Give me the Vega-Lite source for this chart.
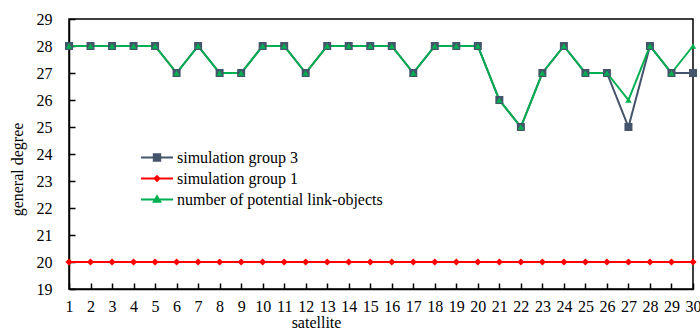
{
  "$schema": "https://vega.github.io/schema/vega-lite/v6.json",
  "width": 624,
  "height": 270,
  "autosize": {"type": "none"},
  "padding": {"left": 69, "top": 19, "right": 7, "bottom": 46},
  "config": {
    "view": {"stroke": "black", "strokeWidth": 1.5},
    "font": "Liberation Serif",
    "axis": {
      "labelFont": "Liberation Serif",
      "labelFontSize": 16,
      "labelColor": "black",
      "titleFont": "Liberation Serif",
      "titleFontSize": 16,
      "titleFontWeight": "normal",
      "titleColor": "black",
      "domainColor": "black",
      "domainWidth": 1.5,
      "tickColor": "black",
      "tickWidth": 1.5,
      "grid": false
    },
    "legend": {
      "labelFont": "Liberation Serif",
      "labelFontSize": 16,
      "labelColor": "black",
      "labelLimit": 400,
      "padding": 0,
      "rowPadding": 0,
      "clipHeight": 21
    }
  },
  "data": {
    "values": [
      {"sat":1,"series":"simulation group 3","value":28},
      {"sat":2,"series":"simulation group 3","value":28},
      {"sat":3,"series":"simulation group 3","value":28},
      {"sat":4,"series":"simulation group 3","value":28},
      {"sat":5,"series":"simulation group 3","value":28},
      {"sat":6,"series":"simulation group 3","value":27},
      {"sat":7,"series":"simulation group 3","value":28},
      {"sat":8,"series":"simulation group 3","value":27},
      {"sat":9,"series":"simulation group 3","value":27},
      {"sat":10,"series":"simulation group 3","value":28},
      {"sat":11,"series":"simulation group 3","value":28},
      {"sat":12,"series":"simulation group 3","value":27},
      {"sat":13,"series":"simulation group 3","value":28},
      {"sat":14,"series":"simulation group 3","value":28},
      {"sat":15,"series":"simulation group 3","value":28},
      {"sat":16,"series":"simulation group 3","value":28},
      {"sat":17,"series":"simulation group 3","value":27},
      {"sat":18,"series":"simulation group 3","value":28},
      {"sat":19,"series":"simulation group 3","value":28},
      {"sat":20,"series":"simulation group 3","value":28},
      {"sat":21,"series":"simulation group 3","value":26},
      {"sat":22,"series":"simulation group 3","value":25},
      {"sat":23,"series":"simulation group 3","value":27},
      {"sat":24,"series":"simulation group 3","value":28},
      {"sat":25,"series":"simulation group 3","value":27},
      {"sat":26,"series":"simulation group 3","value":27},
      {"sat":27,"series":"simulation group 3","value":25},
      {"sat":28,"series":"simulation group 3","value":28},
      {"sat":29,"series":"simulation group 3","value":27},
      {"sat":30,"series":"simulation group 3","value":27},
      {"sat":1,"series":"simulation group 1","value":20},
      {"sat":2,"series":"simulation group 1","value":20},
      {"sat":3,"series":"simulation group 1","value":20},
      {"sat":4,"series":"simulation group 1","value":20},
      {"sat":5,"series":"simulation group 1","value":20},
      {"sat":6,"series":"simulation group 1","value":20},
      {"sat":7,"series":"simulation group 1","value":20},
      {"sat":8,"series":"simulation group 1","value":20},
      {"sat":9,"series":"simulation group 1","value":20},
      {"sat":10,"series":"simulation group 1","value":20},
      {"sat":11,"series":"simulation group 1","value":20},
      {"sat":12,"series":"simulation group 1","value":20},
      {"sat":13,"series":"simulation group 1","value":20},
      {"sat":14,"series":"simulation group 1","value":20},
      {"sat":15,"series":"simulation group 1","value":20},
      {"sat":16,"series":"simulation group 1","value":20},
      {"sat":17,"series":"simulation group 1","value":20},
      {"sat":18,"series":"simulation group 1","value":20},
      {"sat":19,"series":"simulation group 1","value":20},
      {"sat":20,"series":"simulation group 1","value":20},
      {"sat":21,"series":"simulation group 1","value":20},
      {"sat":22,"series":"simulation group 1","value":20},
      {"sat":23,"series":"simulation group 1","value":20},
      {"sat":24,"series":"simulation group 1","value":20},
      {"sat":25,"series":"simulation group 1","value":20},
      {"sat":26,"series":"simulation group 1","value":20},
      {"sat":27,"series":"simulation group 1","value":20},
      {"sat":28,"series":"simulation group 1","value":20},
      {"sat":29,"series":"simulation group 1","value":20},
      {"sat":30,"series":"simulation group 1","value":20},
      {"sat":1,"series":"number of potential link-objects","value":28},
      {"sat":2,"series":"number of potential link-objects","value":28},
      {"sat":3,"series":"number of potential link-objects","value":28},
      {"sat":4,"series":"number of potential link-objects","value":28},
      {"sat":5,"series":"number of potential link-objects","value":28},
      {"sat":6,"series":"number of potential link-objects","value":27},
      {"sat":7,"series":"number of potential link-objects","value":28},
      {"sat":8,"series":"number of potential link-objects","value":27},
      {"sat":9,"series":"number of potential link-objects","value":27},
      {"sat":10,"series":"number of potential link-objects","value":28},
      {"sat":11,"series":"number of potential link-objects","value":28},
      {"sat":12,"series":"number of potential link-objects","value":27},
      {"sat":13,"series":"number of potential link-objects","value":28},
      {"sat":14,"series":"number of potential link-objects","value":28},
      {"sat":15,"series":"number of potential link-objects","value":28},
      {"sat":16,"series":"number of potential link-objects","value":28},
      {"sat":17,"series":"number of potential link-objects","value":27},
      {"sat":18,"series":"number of potential link-objects","value":28},
      {"sat":19,"series":"number of potential link-objects","value":28},
      {"sat":20,"series":"number of potential link-objects","value":28},
      {"sat":21,"series":"number of potential link-objects","value":26},
      {"sat":22,"series":"number of potential link-objects","value":25},
      {"sat":23,"series":"number of potential link-objects","value":27},
      {"sat":24,"series":"number of potential link-objects","value":28},
      {"sat":25,"series":"number of potential link-objects","value":27},
      {"sat":26,"series":"number of potential link-objects","value":27},
      {"sat":27,"series":"number of potential link-objects","value":26},
      {"sat":28,"series":"number of potential link-objects","value":28},
      {"sat":29,"series":"number of potential link-objects","value":27},
      {"sat":30,"series":"number of potential link-objects","value":28}
    ]
  },
  "encoding": {
    "x": {
      "field": "sat", "type": "quantitative",
      "scale": {"domain": [1, 30], "nice": false, "zero": false},
      "axis": {
        "title": "satellite",
        "values": [1,2,3,4,5,6,7,8,9,10,11,12,13,14,15,16,17,18,19,20,21,22,23,24,25,26,27,28,29,30],
        "format": "d",
        "tickSize": -6,
        "labelPadding": 15,
        "labelFlush": false,
        "labelOverlap": false,
        "titleX": 247,
        "titleY": 25,
        "titleBaseline": "top",
        "titleAlign": "center"
      }
    },
    "y": {
      "field": "value", "type": "quantitative",
      "scale": {"domain": [19, 29], "nice": false, "zero": false},
      "axis": {
        "title": "general degree",
        "values": [19,20,21,22,23,24,25,26,27,28,29],
        "tickSize": -6,
        "labelPadding": 23,
        "titleX": -52,
        "titleY": 150,
        "titleBaseline": "middle",
        "titleAlign": "center"
      }
    }
  },
  "resolve": {"scale": {"shape": "independent"}, "legend": {"color": "independent", "shape": "independent"}},
  "layer": [
    {
      "mark": {"type": "line", "strokeWidth": 2},
      "encoding": {
        "color": {
          "field": "series", "type": "nominal",
          "scale": {
            "domain": ["simulation group 3", "simulation group 1", "number of potential link-objects"],
            "range": ["#44546A", "#FF0000", "#00B050"]
          },
          "legend": null
        }
      }
    },
    {
      "mark": {"type": "point", "filled": true, "opacity": 1},
      "encoding": {
        "color": {
          "field": "series", "type": "nominal",
          "legend": null
        },
        "shape": {
          "field": "series", "type": "nominal",
          "scale": {
            "domain": ["simulation group 3", "simulation group 1", "number of potential link-objects"],
            "range": ["square", "diamond", "triangle-up"]
          },
          "legend": null
        },
        "size": {
          "field": "series", "type": "nominal",
          "scale": {
            "domain": ["simulation group 3", "simulation group 1", "number of potential link-objects"],
            "range": [64, 40, 60]
          },
          "legend": null
        }
      }
    },
    {
      "mark": {"type": "point", "filled": false, "opacity": 0, "strokeWidth": 2, "size": 1024},
      "encoding": {
        "color": {
          "field": "series", "type": "nominal",
          "legend": {
            "title": null,
            "orient": "none",
            "legendX": 71,
            "legendY": 128,
            "symbolSize": 1024,
            "symbolStrokeWidth": 2,
            "symbolOpacity": 1,
            "labelOffset": 3
          }
        },
        "shape": {
          "field": "series", "type": "nominal",
          "scale": {
            "domain": ["simulation group 3", "simulation group 1", "number of potential link-objects"],
            "range": [
              "M-1,0H1M-0.2,-0.2H0.2V0.2H-0.2ZM-0.13,-0.13H0.13V0.13H-0.13ZM-0.06,-0.06H0.06V0.06H-0.06Z",
              "M-1,0H1M0,-0.15L0.15,0L0,0.15L-0.15,0ZM0,-0.08L0.08,0L0,0.08L-0.08,0Z",
              "M-1,0H1M0,-0.2L0.2,0.14H-0.2ZM0,-0.1L0.1,0.08H-0.1ZM0,-0.02L0.03,0.04H-0.03Z"
            ]
          },
          "legend": {
            "title": null,
            "orient": "none",
            "legendX": 71,
            "legendY": 128,
            "symbolSize": 1024,
            "symbolStrokeWidth": 2,
            "symbolOpacity": 1,
            "labelOffset": 3
          }
        }
      }
    }
  ]
}
